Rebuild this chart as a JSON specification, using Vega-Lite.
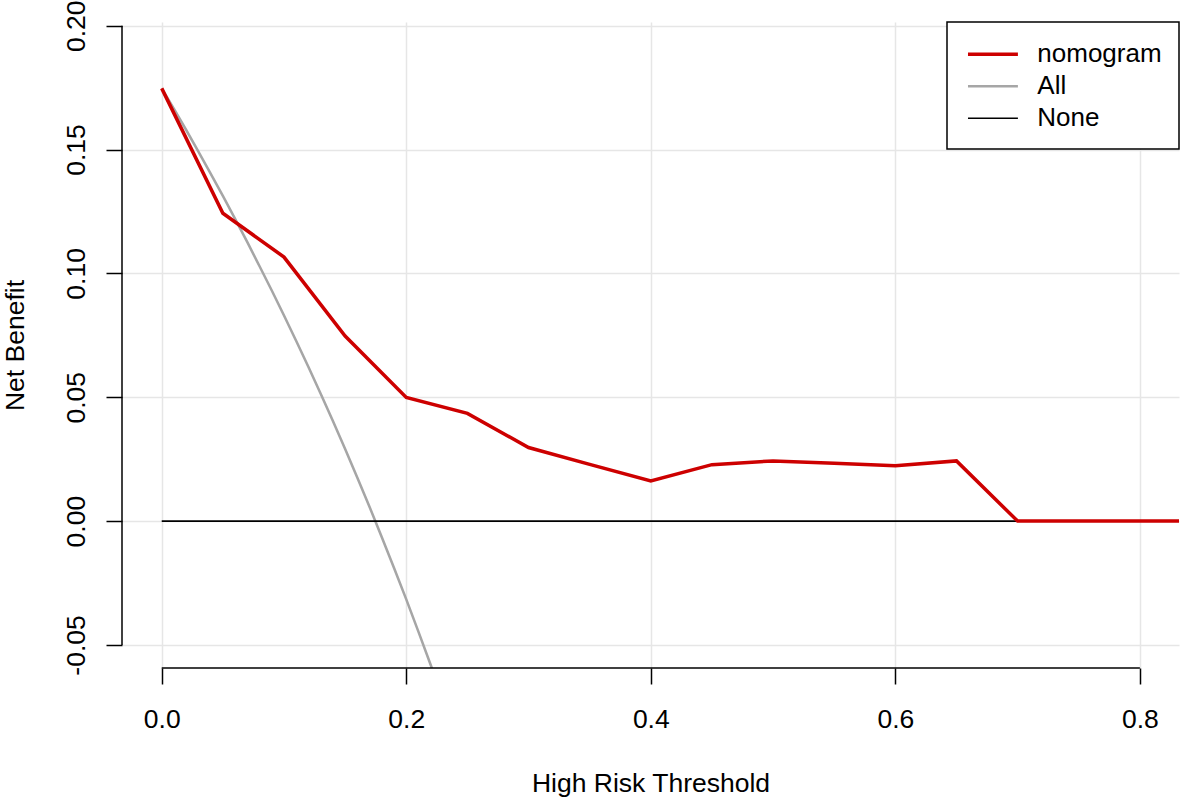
{
  "$schema": "https://vega.github.io/schema/vega-lite/v6.json",
  "width": 1057,
  "height": 646,
  "autosize": {"type": "none"},
  "padding": {"left": 122, "top": 22, "right": 1, "bottom": 130},
  "background": "white",
  "config": {
    "font": "Liberation Sans",
    "view": {"stroke": null},
    "axis": {
      "domain": false,
      "grid": true,
      "gridColor": "#E6E6E6",
      "gridWidth": 1.5,
      "tickColor": "black",
      "tickWidth": 1.5,
      "tickSize": 16,
      "labelFont": "Liberation Sans",
      "labelFontSize": 26.5,
      "labelColor": "black",
      "labelOverlap": false,
      "labelFlush": false,
      "titleFont": "Liberation Sans",
      "titleFontSize": 26.5,
      "titleFontWeight": "normal",
      "titleColor": "black"
    },
    "legend": {
      "orient": "top-right",
      "offset": 0,
      "padding": 17.3,
      "strokeColor": "black",
      "strokeWidth": 1.5,
      "fillColor": "white",
      "symbolType": "M-0.87,0H2.97",
      "symbolSize": 676,
      "labelFont": "Liberation Sans",
      "labelFontSize": 26,
      "labelColor": "black",
      "labelOffset": 43,
      "labelLimit": 400,
      "rowPadding": 4.5,
      "title": null
    }
  },
  "datasets": {
    "curves": [
      {"model": "All", "t": 0.00, "nb": 0.1747},
      {"model": "All", "t": 0.01, "nb": 0.1664},
      {"model": "All", "t": 0.02, "nb": 0.1579},
      {"model": "All", "t": 0.03, "nb": 0.1492},
      {"model": "All", "t": 0.04, "nb": 0.1403},
      {"model": "All", "t": 0.05, "nb": 0.1313},
      {"model": "All", "t": 0.06, "nb": 0.1220},
      {"model": "All", "t": 0.07, "nb": 0.1126},
      {"model": "All", "t": 0.08, "nb": 0.1029},
      {"model": "All", "t": 0.09, "nb": 0.0931},
      {"model": "All", "t": 0.10, "nb": 0.0830},
      {"model": "All", "t": 0.11, "nb": 0.0727},
      {"model": "All", "t": 0.12, "nb": 0.0622},
      {"model": "All", "t": 0.13, "nb": 0.0514},
      {"model": "All", "t": 0.14, "nb": 0.0404},
      {"model": "All", "t": 0.15, "nb": 0.0291},
      {"model": "All", "t": 0.16, "nb": 0.0175},
      {"model": "All", "t": 0.17, "nb": 0.0057},
      {"model": "All", "t": 0.18, "nb": -0.0065},
      {"model": "All", "t": 0.19, "nb": -0.0189},
      {"model": "All", "t": 0.20, "nb": -0.0316},
      {"model": "All", "t": 0.21, "nb": -0.0447},
      {"model": "All", "t": 0.22, "nb": -0.0581},
      {"model": "All", "t": 0.23, "nb": -0.0718},
      {"model": "All", "t": 0.24, "nb": -0.0859},
      {"model": "All", "t": 0.25, "nb": -0.1004},
      {"model": "None", "t": 0.00, "nb": 0},
      {"model": "None", "t": 0.99, "nb": 0},
      {"model": "nomogram", "t": 0.00, "nb": 0.1747},
      {"model": "nomogram", "t": 0.05, "nb": 0.1243},
      {"model": "nomogram", "t": 0.10, "nb": 0.1066},
      {"model": "nomogram", "t": 0.15, "nb": 0.0747},
      {"model": "nomogram", "t": 0.20, "nb": 0.0499},
      {"model": "nomogram", "t": 0.25, "nb": 0.0435},
      {"model": "nomogram", "t": 0.30, "nb": 0.0297},
      {"model": "nomogram", "t": 0.35, "nb": 0.0229},
      {"model": "nomogram", "t": 0.40, "nb": 0.0162},
      {"model": "nomogram", "t": 0.45, "nb": 0.0228},
      {"model": "nomogram", "t": 0.50, "nb": 0.0243},
      {"model": "nomogram", "t": 0.55, "nb": 0.0234},
      {"model": "nomogram", "t": 0.60, "nb": 0.0224},
      {"model": "nomogram", "t": 0.65, "nb": 0.0243},
      {"model": "nomogram", "t": 0.70, "nb": 0},
      {"model": "nomogram", "t": 0.75, "nb": 0},
      {"model": "nomogram", "t": 0.80, "nb": 0},
      {"model": "nomogram", "t": 0.85, "nb": 0},
      {"model": "nomogram", "t": 0.99, "nb": 0}
    ],
    "xaxisline": [{"t": 0, "t2": 0.8, "nb": -0.0593}],
    "yaxisline": [{"t": -0.0325, "nb": -0.05, "nb2": 0.2}]
  },
  "encoding": {
    "x": {
      "field": "t",
      "type": "quantitative",
      "scale": {"domain": [-0.0325, 0.832], "nice": false, "zero": false},
      "axis": {
        "values": [0, 0.2, 0.4, 0.6, 0.8],
        "format": ".1f",
        "labelPadding": 22,
        "title": "High Risk Threshold",
        "titlePadding": 38
      }
    },
    "y": {
      "field": "nb",
      "type": "quantitative",
      "scale": {"domain": [-0.0593, 0.2015], "nice": false, "zero": false},
      "axis": {
        "values": [-0.05, 0, 0.05, 0.1, 0.15, 0.2],
        "labelExpr": "replace(format(datum.value, '.2f'), '−', '-')",
        "labelAngle": -90,
        "labelAlign": "center",
        "labelBaseline": "bottom",
        "labelPadding": 16,
        "title": "Net Benefit",
        "titlePadding": 34
      }
    }
  },
  "layer": [
    {
      "data": {"name": "curves"},
      "transform": [{"filter": "datum.model === 'All'"}],
      "mark": {"type": "line", "clip": true},
      "encoding": {
        "color": {"field": "model", "type": "nominal", "scale": {"domain": ["nomogram", "All", "None"], "range": ["#CD0000", "#A6A6A6", "#000000"]}},
        "strokeWidth": {"field": "model", "type": "nominal", "scale": {"domain": ["nomogram", "All", "None"], "range": [3.5, 1.6, 1.8]}}
      }
    },
    {
      "data": {"name": "curves"},
      "transform": [{"filter": "datum.model === 'None'"}],
      "mark": {"type": "line", "clip": true},
      "encoding": {
        "color": {"field": "model", "type": "nominal", "scale": {"domain": ["nomogram", "All", "None"], "range": ["#CD0000", "#A6A6A6", "#000000"]}},
        "strokeWidth": {"field": "model", "type": "nominal", "scale": {"domain": ["nomogram", "All", "None"], "range": [3.5, 1.6, 1.8]}}
      }
    },
    {
      "data": {"name": "curves"},
      "transform": [{"filter": "datum.model === 'nomogram'"}],
      "mark": {"type": "line", "clip": true},
      "encoding": {
        "color": {"field": "model", "type": "nominal", "scale": {"domain": ["nomogram", "All", "None"], "range": ["#CD0000", "#A6A6A6", "#000000"]}},
        "strokeWidth": {"field": "model", "type": "nominal", "scale": {"domain": ["nomogram", "All", "None"], "range": [3.5, 1.6, 1.8]}}
      }
    },
    {
      "data": {"name": "xaxisline"},
      "mark": {"type": "rule", "color": "black", "strokeWidth": 1.5},
      "encoding": {"x2": {"field": "t2"}}
    },
    {
      "data": {"name": "yaxisline"},
      "mark": {"type": "rule", "color": "black", "strokeWidth": 1.5},
      "encoding": {"y2": {"field": "nb2"}}
    }
  ]
}
